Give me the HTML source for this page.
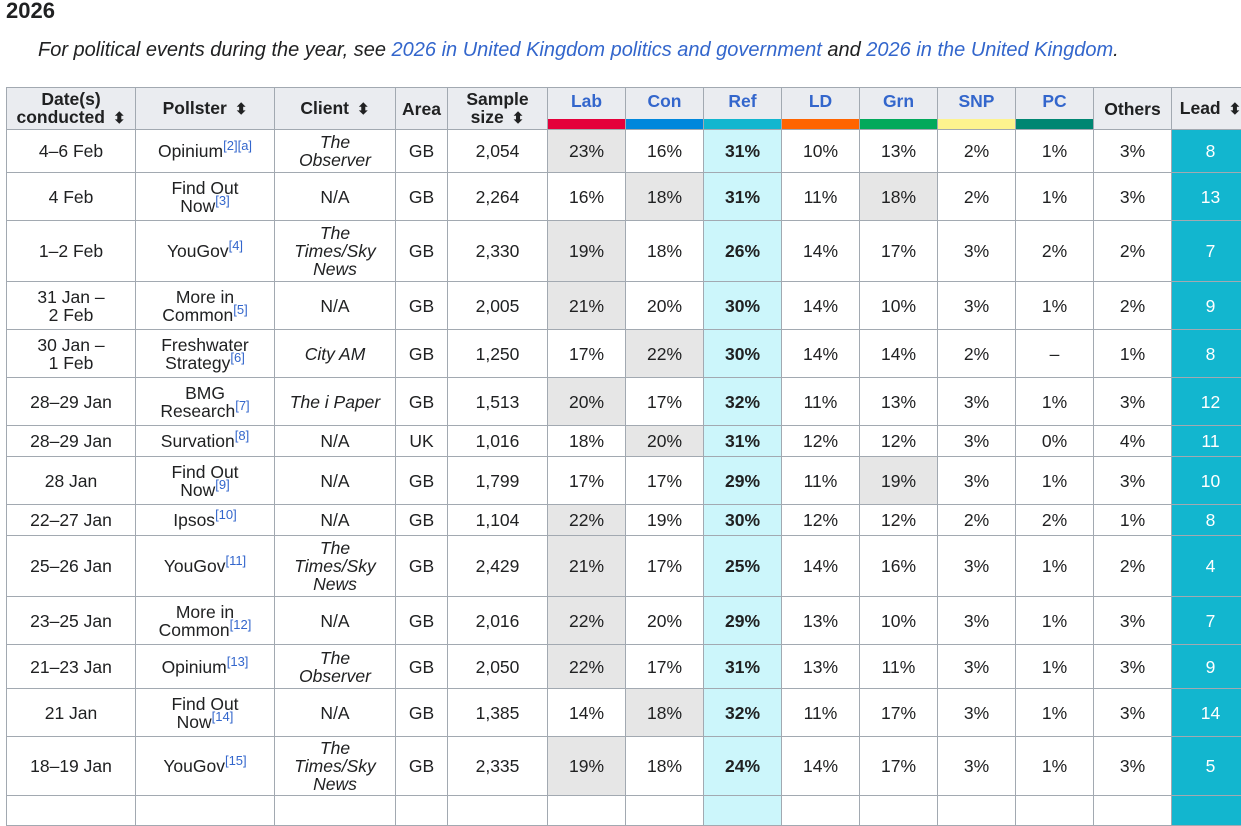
<!DOCTYPE html>
<html><head><meta charset="utf-8"><style>
body{margin:0;background:#fff;font-family:"Liberation Sans",Arial,sans-serif;color:#202122;width:1241px;height:799px;overflow:hidden;position:relative}
h2{position:absolute;left:6px;top:-2px;margin:0;font-size:22px;font-weight:bold}
.note{position:absolute;left:38px;top:39px;font-size:20px;font-style:italic;white-space:nowrap}
.note a{color:#3366cc;text-decoration:none}
table{position:absolute;left:6px;top:87px;border-collapse:collapse;table-layout:fixed;font-size:17.5px;width:1243px}
td,th{border:1px solid #a2a9b1;text-align:center;padding:0 2px;line-height:18px;overflow:hidden}
th{background:#eaecf0;font-weight:bold;position:relative}
th.p{color:#3366cc;vertical-align:top;padding-top:4px}
th .bar{position:absolute;left:0;right:0;bottom:0;height:10px}
.s::after{content:"⬍";font-size:15px;margin-left:8px}
td.g{background:#e6e6e6}
td.r{background:#ccf6fb;font-weight:bold}
td.l{background:#12b6cf;color:#fff}
sup{color:#3366cc;font-size:13px;line-height:0}
i{font-style:italic}
</style></head><body>
<h2>2026</h2>
<div class="note">For political events during the year, see <a>2026 in United Kingdom politics and government</a> and <a>2026 in the United Kingdom</a>.</div>
<table>
<colgroup><col style="width:129px"><col style="width:139px"><col style="width:121px"><col style="width:52px"><col style="width:100px"><col style="width:78px"><col style="width:78px"><col style="width:78px"><col style="width:78px"><col style="width:78px"><col style="width:78px"><col style="width:78px"><col style="width:78px"><col style="width:78px"></colgroup>
<tr style="height:42px"><th><span class="s">Date(s)<br>conducted</span></th><th class="s">Pollster</th><th class="s">Client</th><th>Area</th><th><span class="s">Sample<br>size</span></th>
<th class="p">Lab<div class="bar" style="background:#e4003b"></div></th>
<th class="p">Con<div class="bar" style="background:#0087dc"></div></th>
<th class="p">Ref<div class="bar" style="background:#12b6cf"></div></th>
<th class="p">LD<div class="bar" style="background:#ff6400"></div></th>
<th class="p">Grn<div class="bar" style="background:#02a95b"></div></th>
<th class="p">SNP<div class="bar" style="background:#fdf38e"></div></th>
<th class="p">PC<div class="bar" style="background:#008672"></div></th>
<th>Others</th><th class="s">Lead</th></tr>
<tr style="height:43px"><td>4–6 Feb</td><td>Opinium<sup>[2][a]</sup></td><td><i>The<br>Observer</i></td><td>GB</td><td>2,054</td><td class="g">23%</td><td>16%</td><td class="r">31%</td><td>10%</td><td>13%</td><td>2%</td><td>1%</td><td>3%</td><td class="l">8</td></tr>
<tr style="height:48px"><td>4 Feb</td><td>Find Out<br>Now<sup>[3]</sup></td><td>N/A</td><td>GB</td><td>2,264</td><td>16%</td><td class="g">18%</td><td class="r">31%</td><td>11%</td><td class="g">18%</td><td>2%</td><td>1%</td><td>3%</td><td class="l">13</td></tr>
<tr style="height:61px"><td>1–2 Feb</td><td>YouGov<sup>[4]</sup></td><td><i>The<br>Times/Sky<br>News</i></td><td>GB</td><td>2,330</td><td class="g">19%</td><td>18%</td><td class="r">26%</td><td>14%</td><td>17%</td><td>3%</td><td>2%</td><td>2%</td><td class="l">7</td></tr>
<tr style="height:48px"><td>31 Jan –<br>2 Feb</td><td>More in<br>Common<sup>[5]</sup></td><td>N/A</td><td>GB</td><td>2,005</td><td class="g">21%</td><td>20%</td><td class="r">30%</td><td>14%</td><td>10%</td><td>3%</td><td>1%</td><td>2%</td><td class="l">9</td></tr>
<tr style="height:48px"><td>30 Jan –<br>1 Feb</td><td>Freshwater<br>Strategy<sup>[6]</sup></td><td><i>City AM</i></td><td>GB</td><td>1,250</td><td>17%</td><td class="g">22%</td><td class="r">30%</td><td>14%</td><td>14%</td><td>2%</td><td>–</td><td>1%</td><td class="l">8</td></tr>
<tr style="height:48px"><td>28–29 Jan</td><td>BMG<br>Research<sup>[7]</sup></td><td><i>The i Paper</i></td><td>GB</td><td>1,513</td><td class="g">20%</td><td>17%</td><td class="r">32%</td><td>11%</td><td>13%</td><td>3%</td><td>1%</td><td>3%</td><td class="l">12</td></tr>
<tr style="height:31px"><td>28–29 Jan</td><td>Survation<sup>[8]</sup></td><td>N/A</td><td>UK</td><td>1,016</td><td>18%</td><td class="g">20%</td><td class="r">31%</td><td>12%</td><td>12%</td><td>3%</td><td>0%</td><td>4%</td><td class="l">11</td></tr>
<tr style="height:48px"><td>28 Jan</td><td>Find Out<br>Now<sup>[9]</sup></td><td>N/A</td><td>GB</td><td>1,799</td><td>17%</td><td>17%</td><td class="r">29%</td><td>11%</td><td class="g">19%</td><td>3%</td><td>1%</td><td>3%</td><td class="l">10</td></tr>
<tr style="height:31px"><td>22–27 Jan</td><td>Ipsos<sup>[10]</sup></td><td>N/A</td><td>GB</td><td>1,104</td><td class="g">22%</td><td>19%</td><td class="r">30%</td><td>12%</td><td>12%</td><td>2%</td><td>2%</td><td>1%</td><td class="l">8</td></tr>
<tr style="height:61px"><td>25–26 Jan</td><td>YouGov<sup>[11]</sup></td><td><i>The<br>Times/Sky<br>News</i></td><td>GB</td><td>2,429</td><td class="g">21%</td><td>17%</td><td class="r">25%</td><td>14%</td><td>16%</td><td>3%</td><td>1%</td><td>2%</td><td class="l">4</td></tr>
<tr style="height:48px"><td>23–25 Jan</td><td>More in<br>Common<sup>[12]</sup></td><td>N/A</td><td>GB</td><td>2,016</td><td class="g">22%</td><td>20%</td><td class="r">29%</td><td>13%</td><td>10%</td><td>3%</td><td>1%</td><td>3%</td><td class="l">7</td></tr>
<tr style="height:44px"><td>21–23 Jan</td><td>Opinium<sup>[13]</sup></td><td><i>The<br>Observer</i></td><td>GB</td><td>2,050</td><td class="g">22%</td><td>17%</td><td class="r">31%</td><td>13%</td><td>11%</td><td>3%</td><td>1%</td><td>3%</td><td class="l">9</td></tr>
<tr style="height:48px"><td>21 Jan</td><td>Find Out<br>Now<sup>[14]</sup></td><td>N/A</td><td>GB</td><td>1,385</td><td>14%</td><td class="g">18%</td><td class="r">32%</td><td>11%</td><td>17%</td><td>3%</td><td>1%</td><td>3%</td><td class="l">14</td></tr>
<tr style="height:59px"><td>18–19 Jan</td><td>YouGov<sup>[15]</sup></td><td><i>The<br>Times/Sky<br>News</i></td><td>GB</td><td>2,335</td><td class="g">19%</td><td>18%</td><td class="r">24%</td><td>14%</td><td>17%</td><td>3%</td><td>1%</td><td>3%</td><td class="l">5</td></tr>
<tr style="height:30px"><td></td><td></td><td></td><td></td><td></td><td></td><td></td><td class="r"></td><td></td><td></td><td></td><td></td><td></td><td class="l"></td></tr>
</table>
</body></html>
